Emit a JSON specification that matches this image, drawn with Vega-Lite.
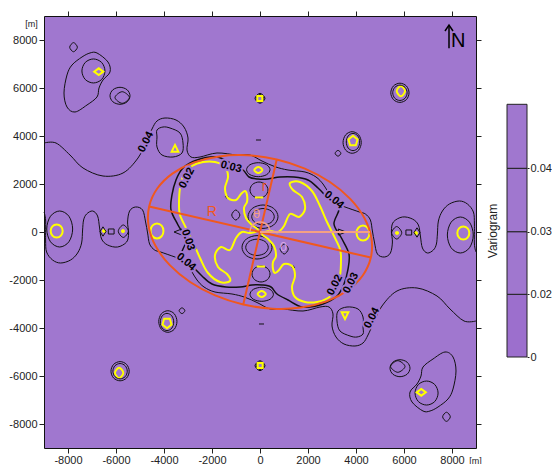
{
"$schema": "https://vega.github.io/schema/vega-lite/v6.json",
"padding": {"left": 8, "top": 10, "right": 0, "bottom": 0},
"config": {
  "axis": {"labelFont": "Liberation Sans", "labelFontSize": 11, "labelColor": "#222", "tickColor": "#222", "domain": false, "grid": false, "tickSize": 5, "titleFont": "Liberation Sans", "titleFontWeight": "normal", "titleColor": "#222"},
  "view": {"stroke": null},
  "text": {"font": "Liberation Sans"}
},
"datasets": {
  "loops": [
    {"id":"L1","lvl":"0.04","i":0,"x":-7610,"y":7700},{"id":"L1","lvl":"0.04","i":1,"x":-7770,"y":7890},{"id":"L1","lvl":"0.04","i":2,"x":-7930,"y":7700},{"id":"L1","lvl":"0.04","i":3,"x":-7770,"y":7510},
    {"id":"L1m","lvl":"0.04","i":0,"x":7610,"y":-7700},{"id":"L1m","lvl":"0.04","i":1,"x":7770,"y":-7890},{"id":"L1m","lvl":"0.04","i":2,"x":7930,"y":-7700},{"id":"L1m","lvl":"0.04","i":3,"x":7770,"y":-7510},
    {"id":"L3","lvl":"0.04","i":0,"x":-6460,"y":6710},{"id":"L3","lvl":"0.04","i":1,"x":-6599,"y":7065},{"id":"L3","lvl":"0.04","i":2,"x":-6940,"y":7210},{"id":"L3","lvl":"0.04","i":3,"x":-7281,"y":7065},{"id":"L3","lvl":"0.04","i":4,"x":-7420,"y":6710},{"id":"L3","lvl":"0.04","i":5,"x":-7281,"y":6355},{"id":"L3","lvl":"0.04","i":6,"x":-6940,"y":6210},{"id":"L3","lvl":"0.04","i":7,"x":-6599,"y":6355},
    {"id":"L3m","lvl":"0.04","i":0,"x":6460,"y":-6710},{"id":"L3m","lvl":"0.04","i":1,"x":6599,"y":-7065},{"id":"L3m","lvl":"0.04","i":2,"x":6940,"y":-7210},{"id":"L3m","lvl":"0.04","i":3,"x":7281,"y":-7065},{"id":"L3m","lvl":"0.04","i":4,"x":7420,"y":-6710},{"id":"L3m","lvl":"0.04","i":5,"x":7281,"y":-6355},{"id":"L3m","lvl":"0.04","i":6,"x":6940,"y":-6210},{"id":"L3m","lvl":"0.04","i":7,"x":6599,"y":-6355},
    {"id":"L4","lvl":"0.04","i":0,"x":-6792,"y":7459},{"id":"L4","lvl":"0.04","i":1,"x":-6333,"y":7083},{"id":"L4","lvl":"0.04","i":2,"x":-6250,"y":6667},{"id":"L4","lvl":"0.04","i":3,"x":-6542,"y":6333},{"id":"L4","lvl":"0.04","i":4,"x":-6708,"y":6000},{"id":"L4","lvl":"0.04","i":5,"x":-6792,"y":5625},{"id":"L4","lvl":"0.04","i":6,"x":-7208,"y":5292},{"id":"L4","lvl":"0.04","i":7,"x":-7708,"y":5000},{"id":"L4","lvl":"0.04","i":8,"x":-8042,"y":5208},{"id":"L4","lvl":"0.04","i":9,"x":-8167,"y":5792},{"id":"L4","lvl":"0.04","i":10,"x":-8042,"y":6542},{"id":"L4","lvl":"0.04","i":11,"x":-7833,"y":6958},{"id":"L4","lvl":"0.04","i":12,"x":-7417,"y":7292},{"id":"L4","lvl":"0.04","i":13,"x":-7083,"y":7459},
    {"id":"L4m","lvl":"0.04","i":0,"x":6792,"y":-7459},{"id":"L4m","lvl":"0.04","i":1,"x":6333,"y":-7083},{"id":"L4m","lvl":"0.04","i":2,"x":6250,"y":-6667},{"id":"L4m","lvl":"0.04","i":3,"x":6542,"y":-6333},{"id":"L4m","lvl":"0.04","i":4,"x":6708,"y":-6000},{"id":"L4m","lvl":"0.04","i":5,"x":6792,"y":-5625},{"id":"L4m","lvl":"0.04","i":6,"x":7208,"y":-5292},{"id":"L4m","lvl":"0.04","i":7,"x":7708,"y":-5000},{"id":"L4m","lvl":"0.04","i":8,"x":8042,"y":-5208},{"id":"L4m","lvl":"0.04","i":9,"x":8167,"y":-5792},{"id":"L4m","lvl":"0.04","i":10,"x":8042,"y":-6542},{"id":"L4m","lvl":"0.04","i":11,"x":7833,"y":-6958},{"id":"L4m","lvl":"0.04","i":12,"x":7417,"y":-7292},{"id":"L4m","lvl":"0.04","i":13,"x":7083,"y":-7459},
    {"id":"L5","lvl":"0.04","i":0,"x":-5416,"y":5675},{"id":"L5","lvl":"0.04","i":1,"x":-5537,"y":5926},{"id":"L5","lvl":"0.04","i":2,"x":-5833,"y":6029},{"id":"L5","lvl":"0.04","i":3,"x":-6129,"y":5926},{"id":"L5","lvl":"0.04","i":4,"x":-6250,"y":5675},{"id":"L5","lvl":"0.04","i":5,"x":-6129,"y":5424},{"id":"L5","lvl":"0.04","i":6,"x":-5833,"y":5321},{"id":"L5","lvl":"0.04","i":7,"x":-5537,"y":5424},
    {"id":"L5m","lvl":"0.04","i":0,"x":5416,"y":-5675},{"id":"L5m","lvl":"0.04","i":1,"x":5537,"y":-5926},{"id":"L5m","lvl":"0.04","i":2,"x":5833,"y":-6029},{"id":"L5m","lvl":"0.04","i":3,"x":6129,"y":-5926},{"id":"L5m","lvl":"0.04","i":4,"x":6250,"y":-5675},{"id":"L5m","lvl":"0.04","i":5,"x":6129,"y":-5424},{"id":"L5m","lvl":"0.04","i":6,"x":5833,"y":-5321},{"id":"L5m","lvl":"0.04","i":7,"x":5537,"y":-5424},
    {"id":"L6","lvl":"0.04","i":0,"x":-5442,"y":5604},{"id":"L6","lvl":"0.04","i":1,"x":-5742,"y":5846},{"id":"L6","lvl":"0.04","i":2,"x":-6042,"y":5604},{"id":"L6","lvl":"0.04","i":3,"x":-5742,"y":5362},
    {"id":"L6m","lvl":"0.04","i":0,"x":5442,"y":-5604},{"id":"L6m","lvl":"0.04","i":1,"x":5742,"y":-5846},{"id":"L6m","lvl":"0.04","i":2,"x":6042,"y":-5604},{"id":"L6m","lvl":"0.04","i":3,"x":5742,"y":-5362},
    {"id":"L7a","lvl":"0.04","i":0,"x":208,"y":5571},{"id":"L7a","lvl":"0.04","i":1,"x":0,"y":5779},{"id":"L7a","lvl":"0.04","i":2,"x":-208,"y":5571},{"id":"L7a","lvl":"0.04","i":3,"x":0,"y":5363},
    {"id":"L7am","lvl":"0.04","i":0,"x":-208,"y":-5571},{"id":"L7am","lvl":"0.04","i":1,"x":0,"y":-5779},{"id":"L7am","lvl":"0.04","i":2,"x":208,"y":-5571},{"id":"L7am","lvl":"0.04","i":3,"x":0,"y":-5363},
    {"id":"L7b","lvl":"0.04","i":0,"x":160,"y":5571},{"id":"L7b","lvl":"0.04","i":1,"x":0,"y":5731},{"id":"L7b","lvl":"0.04","i":2,"x":-160,"y":5571},{"id":"L7b","lvl":"0.04","i":3,"x":0,"y":5411},
    {"id":"L7bm","lvl":"0.04","i":0,"x":-160,"y":-5571},{"id":"L7bm","lvl":"0.04","i":1,"x":0,"y":-5731},{"id":"L7bm","lvl":"0.04","i":2,"x":160,"y":-5571},{"id":"L7bm","lvl":"0.04","i":3,"x":0,"y":-5411},
    {"id":"L8y","lvl":"0.02","i":0,"x":6045,"y":5870},{"id":"L8y","lvl":"0.02","i":1,"x":5870,"y":6080},{"id":"L8y","lvl":"0.02","i":2,"x":5695,"y":5870},{"id":"L8y","lvl":"0.02","i":3,"x":5870,"y":5660},
    {"id":"L8ym","lvl":"0.02","i":0,"x":-6045,"y":-5870},{"id":"L8ym","lvl":"0.02","i":1,"x":-5870,"y":-6080},{"id":"L8ym","lvl":"0.02","i":2,"x":-5695,"y":-5870},{"id":"L8ym","lvl":"0.02","i":3,"x":-5870,"y":-5660},
    {"id":"L8a","lvl":"0.04","i":0,"x":6210,"y":5800},{"id":"L8a","lvl":"0.04","i":1,"x":6100,"y":6084},{"id":"L8a","lvl":"0.04","i":2,"x":5830,"y":6200},{"id":"L8a","lvl":"0.04","i":3,"x":5560,"y":6084},{"id":"L8a","lvl":"0.04","i":4,"x":5450,"y":5800},{"id":"L8a","lvl":"0.04","i":5,"x":5560,"y":5516},{"id":"L8a","lvl":"0.04","i":6,"x":5830,"y":5400},{"id":"L8a","lvl":"0.04","i":7,"x":6100,"y":5516},
    {"id":"L8am","lvl":"0.04","i":0,"x":-6210,"y":-5800},{"id":"L8am","lvl":"0.04","i":1,"x":-6100,"y":-6084},{"id":"L8am","lvl":"0.04","i":2,"x":-5830,"y":-6200},{"id":"L8am","lvl":"0.04","i":3,"x":-5560,"y":-6084},{"id":"L8am","lvl":"0.04","i":4,"x":-5450,"y":-5800},{"id":"L8am","lvl":"0.04","i":5,"x":-5560,"y":-5516},{"id":"L8am","lvl":"0.04","i":6,"x":-5830,"y":-5400},{"id":"L8am","lvl":"0.04","i":7,"x":-6100,"y":-5516},
    {"id":"L8b","lvl":"0.04","i":0,"x":6130,"y":5800},{"id":"L8b","lvl":"0.04","i":1,"x":6043,"y":6027},{"id":"L8b","lvl":"0.04","i":2,"x":5830,"y":6120},{"id":"L8b","lvl":"0.04","i":3,"x":5617,"y":6027},{"id":"L8b","lvl":"0.04","i":4,"x":5530,"y":5800},{"id":"L8b","lvl":"0.04","i":5,"x":5617,"y":5573},{"id":"L8b","lvl":"0.04","i":6,"x":5830,"y":5480},{"id":"L8b","lvl":"0.04","i":7,"x":6043,"y":5573},
    {"id":"L8bm","lvl":"0.04","i":0,"x":-6130,"y":-5800},{"id":"L8bm","lvl":"0.04","i":1,"x":-6043,"y":-6027},{"id":"L8bm","lvl":"0.04","i":2,"x":-5830,"y":-6120},{"id":"L8bm","lvl":"0.04","i":3,"x":-5617,"y":-6027},{"id":"L8bm","lvl":"0.04","i":4,"x":-5530,"y":-5800},{"id":"L8bm","lvl":"0.04","i":5,"x":-5617,"y":-5573},{"id":"L8bm","lvl":"0.04","i":6,"x":-5830,"y":-5480},{"id":"L8bm","lvl":"0.04","i":7,"x":-6043,"y":-5573},
    {"id":"L9","lvl":"0.04","i":0,"x":3370,"y":3280},{"id":"L9","lvl":"0.04","i":1,"x":3250,"y":3400},{"id":"L9","lvl":"0.04","i":2,"x":3130,"y":3280},{"id":"L9","lvl":"0.04","i":3,"x":3250,"y":3160},
    {"id":"L9m","lvl":"0.04","i":0,"x":-3370,"y":-3280},{"id":"L9m","lvl":"0.04","i":1,"x":-3250,"y":-3400},{"id":"L9m","lvl":"0.04","i":2,"x":-3130,"y":-3280},{"id":"L9m","lvl":"0.04","i":3,"x":-3250,"y":-3160},
    {"id":"L10a","lvl":"0.04","i":0,"x":4155,"y":3750},{"id":"L10a","lvl":"0.04","i":1,"x":4074,"y":4006},{"id":"L10a","lvl":"0.04","i":2,"x":3875,"y":4110},{"id":"L10a","lvl":"0.04","i":3,"x":3676,"y":4006},{"id":"L10a","lvl":"0.04","i":4,"x":3595,"y":3750},{"id":"L10a","lvl":"0.04","i":5,"x":3676,"y":3494},{"id":"L10a","lvl":"0.04","i":6,"x":3875,"y":3390},{"id":"L10a","lvl":"0.04","i":7,"x":4074,"y":3494},
    {"id":"L10am","lvl":"0.04","i":0,"x":-4155,"y":-3750},{"id":"L10am","lvl":"0.04","i":1,"x":-4074,"y":-4006},{"id":"L10am","lvl":"0.04","i":2,"x":-3875,"y":-4110},{"id":"L10am","lvl":"0.04","i":3,"x":-3676,"y":-4006},{"id":"L10am","lvl":"0.04","i":4,"x":-3595,"y":-3750},{"id":"L10am","lvl":"0.04","i":5,"x":-3676,"y":-3494},{"id":"L10am","lvl":"0.04","i":6,"x":-3875,"y":-3390},{"id":"L10am","lvl":"0.04","i":7,"x":-4074,"y":-3494},
    {"id":"L10b","lvl":"0.04","i":0,"x":4220,"y":3730},{"id":"L10b","lvl":"0.04","i":1,"x":4110,"y":4050},{"id":"L10b","lvl":"0.04","i":2,"x":3840,"y":4180},{"id":"L10b","lvl":"0.04","i":3,"x":3570,"y":4050},{"id":"L10b","lvl":"0.04","i":4,"x":3460,"y":3730},{"id":"L10b","lvl":"0.04","i":5,"x":3570,"y":3410},{"id":"L10b","lvl":"0.04","i":6,"x":3840,"y":3280},{"id":"L10b","lvl":"0.04","i":7,"x":4110,"y":3410},
    {"id":"L10bm","lvl":"0.04","i":0,"x":-4220,"y":-3730},{"id":"L10bm","lvl":"0.04","i":1,"x":-4110,"y":-4050},{"id":"L10bm","lvl":"0.04","i":2,"x":-3840,"y":-4180},{"id":"L10bm","lvl":"0.04","i":3,"x":-3570,"y":-4050},{"id":"L10bm","lvl":"0.04","i":4,"x":-3460,"y":-3730},{"id":"L10bm","lvl":"0.04","i":5,"x":-3570,"y":-3410},{"id":"L10bm","lvl":"0.04","i":6,"x":-3840,"y":-3280},{"id":"L10bm","lvl":"0.04","i":7,"x":-4110,"y":-3410},
    {"id":"L11k","lvl":"0.04","i":0,"x":-4292,"y":4250},{"id":"L11k","lvl":"0.04","i":1,"x":-4042,"y":4375},{"id":"L11k","lvl":"0.04","i":2,"x":-3750,"y":4333},{"id":"L11k","lvl":"0.04","i":3,"x":-3333,"y":4125},{"id":"L11k","lvl":"0.04","i":4,"x":-3208,"y":3708},{"id":"L11k","lvl":"0.04","i":5,"x":-3250,"y":3292},{"id":"L11k","lvl":"0.04","i":6,"x":-3625,"y":3125},{"id":"L11k","lvl":"0.04","i":7,"x":-4083,"y":3208},{"id":"L11k","lvl":"0.04","i":8,"x":-4292,"y":3542},{"id":"L11k","lvl":"0.04","i":9,"x":-4292,"y":3958},
    {"id":"L11km","lvl":"0.04","i":0,"x":4292,"y":-4250},{"id":"L11km","lvl":"0.04","i":1,"x":4042,"y":-4375},{"id":"L11km","lvl":"0.04","i":2,"x":3750,"y":-4333},{"id":"L11km","lvl":"0.04","i":3,"x":3333,"y":-4125},{"id":"L11km","lvl":"0.04","i":4,"x":3208,"y":-3708},{"id":"L11km","lvl":"0.04","i":5,"x":3250,"y":-3292},{"id":"L11km","lvl":"0.04","i":6,"x":3625,"y":-3125},{"id":"L11km","lvl":"0.04","i":7,"x":4083,"y":-3208},{"id":"L11km","lvl":"0.04","i":8,"x":4292,"y":-3542},{"id":"L11km","lvl":"0.04","i":9,"x":4292,"y":-3958},
    {"id":"L12y","lvl":"0.02","i":0,"x":-4022,"y":42},{"id":"L12y","lvl":"0.02","i":1,"x":-4100,"y":262},{"id":"L12y","lvl":"0.02","i":2,"x":-4292,"y":352},{"id":"L12y","lvl":"0.02","i":3,"x":-4484,"y":262},{"id":"L12y","lvl":"0.02","i":4,"x":-4562,"y":42},{"id":"L12y","lvl":"0.02","i":5,"x":-4484,"y":-178},{"id":"L12y","lvl":"0.02","i":6,"x":-4292,"y":-268},{"id":"L12y","lvl":"0.02","i":7,"x":-4100,"y":-178},
    {"id":"L12ym","lvl":"0.02","i":0,"x":4022,"y":-42},{"id":"L12ym","lvl":"0.02","i":1,"x":4100,"y":-262},{"id":"L12ym","lvl":"0.02","i":2,"x":4292,"y":-352},{"id":"L12ym","lvl":"0.02","i":3,"x":4484,"y":-262},{"id":"L12ym","lvl":"0.02","i":4,"x":4562,"y":-42},{"id":"L12ym","lvl":"0.02","i":5,"x":4484,"y":178},{"id":"L12ym","lvl":"0.02","i":6,"x":4292,"y":268},{"id":"L12ym","lvl":"0.02","i":7,"x":4100,"y":178},
    {"id":"L13y","lvl":"0.02","i":0,"x":-8222,"y":42},{"id":"L13y","lvl":"0.02","i":1,"x":-8294,"y":234},{"id":"L13y","lvl":"0.02","i":2,"x":-8472,"y":312},{"id":"L13y","lvl":"0.02","i":3,"x":-8650,"y":234},{"id":"L13y","lvl":"0.02","i":4,"x":-8722,"y":42},{"id":"L13y","lvl":"0.02","i":5,"x":-8650,"y":-150},{"id":"L13y","lvl":"0.02","i":6,"x":-8472,"y":-228},{"id":"L13y","lvl":"0.02","i":7,"x":-8294,"y":-150},
    {"id":"L13ym","lvl":"0.02","i":0,"x":8222,"y":-42},{"id":"L13ym","lvl":"0.02","i":1,"x":8294,"y":-234},{"id":"L13ym","lvl":"0.02","i":2,"x":8472,"y":-312},{"id":"L13ym","lvl":"0.02","i":3,"x":8650,"y":-234},{"id":"L13ym","lvl":"0.02","i":4,"x":8722,"y":-42},{"id":"L13ym","lvl":"0.02","i":5,"x":8650,"y":150},{"id":"L13ym","lvl":"0.02","i":6,"x":8472,"y":228},{"id":"L13ym","lvl":"0.02","i":7,"x":8294,"y":150},
    {"id":"L14k","lvl":"0.04","i":0,"x":-7806,"y":125},{"id":"L14k","lvl":"0.04","i":1,"x":-7963,"y":658},{"id":"L14k","lvl":"0.04","i":2,"x":-8346,"y":875},{"id":"L14k","lvl":"0.04","i":3,"x":-8729,"y":658},{"id":"L14k","lvl":"0.04","i":4,"x":-8886,"y":125},{"id":"L14k","lvl":"0.04","i":5,"x":-8729,"y":-408},{"id":"L14k","lvl":"0.04","i":6,"x":-8346,"y":-625},{"id":"L14k","lvl":"0.04","i":7,"x":-7963,"y":-408},
    {"id":"L14km","lvl":"0.04","i":0,"x":7806,"y":-125},{"id":"L14km","lvl":"0.04","i":1,"x":7963,"y":-658},{"id":"L14km","lvl":"0.04","i":2,"x":8346,"y":-875},{"id":"L14km","lvl":"0.04","i":3,"x":8729,"y":-658},{"id":"L14km","lvl":"0.04","i":4,"x":8886,"y":-125},{"id":"L14km","lvl":"0.04","i":5,"x":8729,"y":408},{"id":"L14km","lvl":"0.04","i":6,"x":8346,"y":625},{"id":"L14km","lvl":"0.04","i":7,"x":7963,"y":408},
    {"id":"L15y","lvl":"0.02","i":0,"x":-6455,"y":42},{"id":"L15y","lvl":"0.02","i":1,"x":-6500,"y":87},{"id":"L15y","lvl":"0.02","i":2,"x":-6545,"y":42},{"id":"L15y","lvl":"0.02","i":3,"x":-6500,"y":-3},
    {"id":"L15ym","lvl":"0.02","i":0,"x":6455,"y":-42},{"id":"L15ym","lvl":"0.02","i":1,"x":6500,"y":-87},{"id":"L15ym","lvl":"0.02","i":2,"x":6545,"y":-42},{"id":"L15ym","lvl":"0.02","i":3,"x":6500,"y":3},
    {"id":"L17k","lvl":"0.04","i":0,"x":-5486,"y":33},{"id":"L17k","lvl":"0.04","i":1,"x":-5696,"y":293},{"id":"L17k","lvl":"0.04","i":2,"x":-5906,"y":33},{"id":"L17k","lvl":"0.04","i":3,"x":-5696,"y":-227},
    {"id":"L17km","lvl":"0.04","i":0,"x":5486,"y":-33},{"id":"L17km","lvl":"0.04","i":1,"x":5696,"y":-293},{"id":"L17km","lvl":"0.04","i":2,"x":5906,"y":-33},{"id":"L17km","lvl":"0.04","i":3,"x":5696,"y":227},
    {"id":"L17y","lvl":"0.02","i":0,"x":-5665,"y":40},{"id":"L17y","lvl":"0.02","i":1,"x":-5710,"y":85},{"id":"L17y","lvl":"0.02","i":2,"x":-5755,"y":40},{"id":"L17y","lvl":"0.02","i":3,"x":-5710,"y":-5},
    {"id":"L17ym","lvl":"0.02","i":0,"x":5665,"y":-40},{"id":"L17ym","lvl":"0.02","i":1,"x":5710,"y":-85},{"id":"L17ym","lvl":"0.02","i":2,"x":5755,"y":-40},{"id":"L17ym","lvl":"0.02","i":3,"x":5710,"y":5},
    {"id":"L20y","lvl":"0.02","i":0,"x":99,"y":2583},{"id":"L20y","lvl":"0.02","i":1,"x":-71,"y":2708},{"id":"L20y","lvl":"0.02","i":2,"x":-241,"y":2583},{"id":"L20y","lvl":"0.02","i":3,"x":-71,"y":2458},
    {"id":"L20ym","lvl":"0.02","i":0,"x":-99,"y":-2583},{"id":"L20ym","lvl":"0.02","i":1,"x":71,"y":-2708},{"id":"L20ym","lvl":"0.02","i":2,"x":241,"y":-2583},{"id":"L20ym","lvl":"0.02","i":3,"x":71,"y":-2458},
    {"id":"L21k","lvl":"0.04","i":0,"x":417,"y":2596},{"id":"L21k","lvl":"0.04","i":1,"x":275,"y":2803},{"id":"L21k","lvl":"0.04","i":2,"x":-71,"y":2888},{"id":"L21k","lvl":"0.04","i":3,"x":-417,"y":2803},{"id":"L21k","lvl":"0.04","i":4,"x":-559,"y":2596},{"id":"L21k","lvl":"0.04","i":5,"x":-417,"y":2389},{"id":"L21k","lvl":"0.04","i":6,"x":-71,"y":2304},{"id":"L21k","lvl":"0.04","i":7,"x":275,"y":2389},
    {"id":"L21km","lvl":"0.04","i":0,"x":-417,"y":-2596},{"id":"L21km","lvl":"0.04","i":1,"x":-275,"y":-2803},{"id":"L21km","lvl":"0.04","i":2,"x":71,"y":-2888},{"id":"L21km","lvl":"0.04","i":3,"x":417,"y":-2803},{"id":"L21km","lvl":"0.04","i":4,"x":559,"y":-2596},{"id":"L21km","lvl":"0.04","i":5,"x":417,"y":-2389},{"id":"L21km","lvl":"0.04","i":6,"x":71,"y":-2304},{"id":"L21km","lvl":"0.04","i":7,"x":-275,"y":-2389},
    {"id":"C1k","lvl":"0.04","i":0,"x":333,"y":1750},{"id":"C1k","lvl":"0.04","i":1,"x":224,"y":1986},{"id":"C1k","lvl":"0.04","i":2,"x":-42,"y":2083},{"id":"C1k","lvl":"0.04","i":3,"x":-308,"y":1986},{"id":"C1k","lvl":"0.04","i":4,"x":-417,"y":1750},{"id":"C1k","lvl":"0.04","i":5,"x":-308,"y":1514},{"id":"C1k","lvl":"0.04","i":6,"x":-42,"y":1417},{"id":"C1k","lvl":"0.04","i":7,"x":224,"y":1514},
    {"id":"C1km","lvl":"0.04","i":0,"x":-333,"y":-1750},{"id":"C1km","lvl":"0.04","i":1,"x":-224,"y":-1986},{"id":"C1km","lvl":"0.04","i":2,"x":42,"y":-2083},{"id":"C1km","lvl":"0.04","i":3,"x":308,"y":-1986},{"id":"C1km","lvl":"0.04","i":4,"x":417,"y":-1750},{"id":"C1km","lvl":"0.04","i":5,"x":308,"y":-1514},{"id":"C1km","lvl":"0.04","i":6,"x":42,"y":-1417},{"id":"C1km","lvl":"0.04","i":7,"x":-224,"y":-1514},
    {"id":"C3k","lvl":"0.04","i":0,"x":750,"y":638},{"id":"C3k","lvl":"0.04","i":1,"x":569,"y":984},{"id":"C3k","lvl":"0.04","i":2,"x":125,"y":1126},{"id":"C3k","lvl":"0.04","i":3,"x":-319,"y":984},{"id":"C3k","lvl":"0.04","i":4,"x":-500,"y":638},{"id":"C3k","lvl":"0.04","i":5,"x":-319,"y":292},{"id":"C3k","lvl":"0.04","i":6,"x":125,"y":150},{"id":"C3k","lvl":"0.04","i":7,"x":569,"y":292},
    {"id":"C3km","lvl":"0.04","i":0,"x":-750,"y":-638},{"id":"C3km","lvl":"0.04","i":1,"x":-569,"y":-984},{"id":"C3km","lvl":"0.04","i":2,"x":-125,"y":-1126},{"id":"C3km","lvl":"0.04","i":3,"x":319,"y":-984},{"id":"C3km","lvl":"0.04","i":4,"x":500,"y":-638},{"id":"C3km","lvl":"0.04","i":5,"x":319,"y":-292},{"id":"C3km","lvl":"0.04","i":6,"x":-125,"y":-150},{"id":"C3km","lvl":"0.04","i":7,"x":-569,"y":-292},
    {"id":"C3b","lvl":"0.04","i":0,"x":595,"y":638},{"id":"C3b","lvl":"0.04","i":1,"x":459,"y":879},{"id":"C3b","lvl":"0.04","i":2,"x":125,"y":978},{"id":"C3b","lvl":"0.04","i":3,"x":-209,"y":879},{"id":"C3b","lvl":"0.04","i":4,"x":-345,"y":638},{"id":"C3b","lvl":"0.04","i":5,"x":-209,"y":397},{"id":"C3b","lvl":"0.04","i":6,"x":125,"y":298},{"id":"C3b","lvl":"0.04","i":7,"x":459,"y":397},
    {"id":"C3bm","lvl":"0.04","i":0,"x":-595,"y":-638},{"id":"C3bm","lvl":"0.04","i":1,"x":-459,"y":-879},{"id":"C3bm","lvl":"0.04","i":2,"x":-125,"y":-978},{"id":"C3bm","lvl":"0.04","i":3,"x":209,"y":-879},{"id":"C3bm","lvl":"0.04","i":4,"x":345,"y":-638},{"id":"C3bm","lvl":"0.04","i":5,"x":209,"y":-397},{"id":"C3bm","lvl":"0.04","i":6,"x":-125,"y":-298},{"id":"C3bm","lvl":"0.04","i":7,"x":-459,"y":-397},
    {"id":"C4k","lvl":"0.04","i":0,"x":-838,"y":708},{"id":"C4k","lvl":"0.04","i":1,"x":-1008,"y":918},{"id":"C4k","lvl":"0.04","i":2,"x":-1178,"y":708},{"id":"C4k","lvl":"0.04","i":3,"x":-1008,"y":498},
    {"id":"C4km","lvl":"0.04","i":0,"x":838,"y":-708},{"id":"C4km","lvl":"0.04","i":1,"x":1008,"y":-918},{"id":"C4km","lvl":"0.04","i":2,"x":1178,"y":-708},{"id":"C4km","lvl":"0.04","i":3,"x":1008,"y":-498},
    {"id":"Dt","lvl":"0.04","i":0,"x":-1338,"y":1471},{"id":"Dt","lvl":"0.04","i":1,"x":-1388,"y":1521},{"id":"Dt","lvl":"0.04","i":2,"x":-1438,"y":1471},{"id":"Dt","lvl":"0.04","i":3,"x":-1388,"y":1421},
    {"id":"Dtm","lvl":"0.04","i":0,"x":1338,"y":-1471},{"id":"Dtm","lvl":"0.04","i":1,"x":1388,"y":-1521},{"id":"Dtm","lvl":"0.04","i":2,"x":1438,"y":-1471},{"id":"Dtm","lvl":"0.04","i":3,"x":1388,"y":-1421},
    {"id":"Y1","lvl":"0.02","i":0,"x":-3375,"y":1125},{"id":"Y1","lvl":"0.02","i":1,"x":-3333,"y":1833},{"id":"Y1","lvl":"0.02","i":2,"x":-3167,"y":2417},{"id":"Y1","lvl":"0.02","i":3,"x":-2833,"y":2750},{"id":"Y1","lvl":"0.02","i":4,"x":-2375,"y":2917},{"id":"Y1","lvl":"0.02","i":5,"x":-1875,"y":2917},{"id":"Y1","lvl":"0.02","i":6,"x":-1458,"y":2708},{"id":"Y1","lvl":"0.02","i":7,"x":-1333,"y":2292},{"id":"Y1","lvl":"0.02","i":8,"x":-1458,"y":1833},{"id":"Y1","lvl":"0.02","i":9,"x":-1333,"y":1417},{"id":"Y1","lvl":"0.02","i":10,"x":-1000,"y":1333},{"id":"Y1","lvl":"0.02","i":11,"x":-792,"y":1583},{"id":"Y1","lvl":"0.02","i":12,"x":-625,"y":1708},{"id":"Y1","lvl":"0.02","i":13,"x":-542,"y":1542},{"id":"Y1","lvl":"0.02","i":14,"x":-542,"y":1250},{"id":"Y1","lvl":"0.02","i":15,"x":-667,"y":1000},{"id":"Y1","lvl":"0.02","i":16,"x":-583,"y":583},{"id":"Y1","lvl":"0.02","i":17,"x":-333,"y":292},{"id":"Y1","lvl":"0.02","i":18,"x":-83,"y":83},{"id":"Y1","lvl":"0.02","i":19,"x":-417,"y":-42},{"id":"Y1","lvl":"0.02","i":20,"x":-750,"y":0},{"id":"Y1","lvl":"0.02","i":21,"x":-1000,"y":-250},{"id":"Y1","lvl":"0.02","i":22,"x":-1250,"y":-750},{"id":"Y1","lvl":"0.02","i":23,"x":-1625,"y":-625},{"id":"Y1","lvl":"0.02","i":24,"x":-1875,"y":-958},{"id":"Y1","lvl":"0.02","i":25,"x":-1750,"y":-1458},{"id":"Y1","lvl":"0.02","i":26,"x":-1375,"y":-1750},{"id":"Y1","lvl":"0.02","i":27,"x":-1250,"y":-2042},{"id":"Y1","lvl":"0.02","i":28,"x":-1667,"y":-2083},{"id":"Y1","lvl":"0.02","i":29,"x":-2167,"y":-1708},{"id":"Y1","lvl":"0.02","i":30,"x":-2500,"y":-1083},{"id":"Y1","lvl":"0.02","i":31,"x":-2792,"y":-417},{"id":"Y1","lvl":"0.02","i":32,"x":-3083,"y":167},{"id":"Y1","lvl":"0.02","i":33,"x":-3333,"y":708},
    {"id":"Y1m","lvl":"0.02","i":0,"x":3375,"y":-1125},{"id":"Y1m","lvl":"0.02","i":1,"x":3333,"y":-1833},{"id":"Y1m","lvl":"0.02","i":2,"x":3167,"y":-2417},{"id":"Y1m","lvl":"0.02","i":3,"x":2833,"y":-2750},{"id":"Y1m","lvl":"0.02","i":4,"x":2375,"y":-2917},{"id":"Y1m","lvl":"0.02","i":5,"x":1875,"y":-2917},{"id":"Y1m","lvl":"0.02","i":6,"x":1458,"y":-2708},{"id":"Y1m","lvl":"0.02","i":7,"x":1333,"y":-2292},{"id":"Y1m","lvl":"0.02","i":8,"x":1458,"y":-1833},{"id":"Y1m","lvl":"0.02","i":9,"x":1333,"y":-1417},{"id":"Y1m","lvl":"0.02","i":10,"x":1000,"y":-1333},{"id":"Y1m","lvl":"0.02","i":11,"x":792,"y":-1583},{"id":"Y1m","lvl":"0.02","i":12,"x":625,"y":-1708},{"id":"Y1m","lvl":"0.02","i":13,"x":542,"y":-1542},{"id":"Y1m","lvl":"0.02","i":14,"x":542,"y":-1250},{"id":"Y1m","lvl":"0.02","i":15,"x":667,"y":-1000},{"id":"Y1m","lvl":"0.02","i":16,"x":583,"y":-583},{"id":"Y1m","lvl":"0.02","i":17,"x":333,"y":-292},{"id":"Y1m","lvl":"0.02","i":18,"x":83,"y":-83},{"id":"Y1m","lvl":"0.02","i":19,"x":417,"y":42},{"id":"Y1m","lvl":"0.02","i":20,"x":750,"y":0},{"id":"Y1m","lvl":"0.02","i":21,"x":1000,"y":250},{"id":"Y1m","lvl":"0.02","i":22,"x":1250,"y":750},{"id":"Y1m","lvl":"0.02","i":23,"x":1625,"y":625},{"id":"Y1m","lvl":"0.02","i":24,"x":1875,"y":958},{"id":"Y1m","lvl":"0.02","i":25,"x":1750,"y":1458},{"id":"Y1m","lvl":"0.02","i":26,"x":1375,"y":1750},{"id":"Y1m","lvl":"0.02","i":27,"x":1250,"y":2042},{"id":"Y1m","lvl":"0.02","i":28,"x":1667,"y":2083},{"id":"Y1m","lvl":"0.02","i":29,"x":2167,"y":1708},{"id":"Y1m","lvl":"0.02","i":30,"x":2500,"y":1083},{"id":"Y1m","lvl":"0.02","i":31,"x":2792,"y":417},{"id":"Y1m","lvl":"0.02","i":32,"x":3083,"y":-167},{"id":"Y1m","lvl":"0.02","i":33,"x":3333,"y":-708},
    {"id":"D","lvl":"0.03","i":0,"x":-3292,"y":-1000},{"id":"D","lvl":"0.03","i":1,"x":-3083,"y":-333},{"id":"D","lvl":"0.03","i":2,"x":-3417,"y":292},{"id":"D","lvl":"0.03","i":3,"x":-3708,"y":917},{"id":"D","lvl":"0.03","i":4,"x":-3667,"y":1542},{"id":"D","lvl":"0.03","i":5,"x":-3500,"y":2167},{"id":"D","lvl":"0.03","i":6,"x":-3208,"y":2667},{"id":"D","lvl":"0.03","i":7,"x":-2625,"y":3000},{"id":"D","lvl":"0.03","i":8,"x":-1792,"y":3125},{"id":"D","lvl":"0.03","i":9,"x":-1167,"y":2833},{"id":"D","lvl":"0.03","i":10,"x":-708,"y":2583},{"id":"D","lvl":"0.03","i":11,"x":-458,"y":2292},{"id":"D","lvl":"0.03","i":12,"x":-83,"y":2208},{"id":"D","lvl":"0.03","i":13,"x":333,"y":2208},{"id":"D","lvl":"0.03","i":14,"x":833,"y":2292},{"id":"D","lvl":"0.03","i":15,"x":1417,"y":2292},{"id":"D","lvl":"0.03","i":16,"x":2000,"y":2167},{"id":"D","lvl":"0.03","i":17,"x":2417,"y":1833},{"id":"D","lvl":"0.03","i":18,"x":2833,"y":1417},
    {"id":"D","lvl":"0.03","i":19,"x":3292,"y":1000},{"id":"D","lvl":"0.03","i":20,"x":3083,"y":333},{"id":"D","lvl":"0.03","i":21,"x":3417,"y":-292},{"id":"D","lvl":"0.03","i":22,"x":3708,"y":-917},{"id":"D","lvl":"0.03","i":23,"x":3667,"y":-1542},{"id":"D","lvl":"0.03","i":24,"x":3500,"y":-2167},{"id":"D","lvl":"0.03","i":25,"x":3208,"y":-2667},{"id":"D","lvl":"0.03","i":26,"x":2625,"y":-3000},{"id":"D","lvl":"0.03","i":27,"x":1792,"y":-3125},{"id":"D","lvl":"0.03","i":28,"x":1167,"y":-2833},{"id":"D","lvl":"0.03","i":29,"x":708,"y":-2583},{"id":"D","lvl":"0.03","i":30,"x":458,"y":-2292},{"id":"D","lvl":"0.03","i":31,"x":83,"y":-2208},{"id":"D","lvl":"0.03","i":32,"x":-333,"y":-2208},{"id":"D","lvl":"0.03","i":33,"x":-833,"y":-2292},{"id":"D","lvl":"0.03","i":34,"x":-1417,"y":-2292},{"id":"D","lvl":"0.03","i":35,"x":-2000,"y":-2167},{"id":"D","lvl":"0.03","i":36,"x":-2417,"y":-1833},{"id":"D","lvl":"0.03","i":37,"x":-2833,"y":-1417}
  ],
  "polys": [
    {"id":"P2","lvl":"0.02","i":0,"x":-6530,"y":6680},{"id":"P2","lvl":"0.02","i":1,"x":-6720,"y":6820},{"id":"P2","lvl":"0.02","i":2,"x":-6910,"y":6680},{"id":"P2","lvl":"0.02","i":3,"x":-6720,"y":6540},
    {"id":"P2m","lvl":"0.02","i":0,"x":6530,"y":-6680},{"id":"P2m","lvl":"0.02","i":1,"x":6720,"y":-6820},{"id":"P2m","lvl":"0.02","i":2,"x":6910,"y":-6680},{"id":"P2m","lvl":"0.02","i":3,"x":6720,"y":-6540},
    {"id":"P7","lvl":"0.02","i":0,"x":-112,"y":5459},{"id":"P7","lvl":"0.02","i":1,"x":96,"y":5459},{"id":"P7","lvl":"0.02","i":2,"x":96,"y":5667},{"id":"P7","lvl":"0.02","i":3,"x":-112,"y":5667},
    {"id":"P7m","lvl":"0.02","i":0,"x":112,"y":-5459},{"id":"P7m","lvl":"0.02","i":1,"x":-96,"y":-5459},{"id":"P7m","lvl":"0.02","i":2,"x":-96,"y":-5667},{"id":"P7m","lvl":"0.02","i":3,"x":112,"y":-5667},
    {"id":"P10","lvl":"0.02","i":0,"x":3875,"y":4010},{"id":"P10","lvl":"0.02","i":1,"x":3685,"y":3858},{"id":"P10","lvl":"0.02","i":2,"x":3757,"y":3612},{"id":"P10","lvl":"0.02","i":3,"x":3993,"y":3612},{"id":"P10","lvl":"0.02","i":4,"x":4065,"y":3858},
    {"id":"P10m","lvl":"0.02","i":0,"x":-3875,"y":-4010},{"id":"P10m","lvl":"0.02","i":1,"x":-3685,"y":-3858},{"id":"P10m","lvl":"0.02","i":2,"x":-3757,"y":-3612},{"id":"P10m","lvl":"0.02","i":3,"x":-3993,"y":-3612},{"id":"P10m","lvl":"0.02","i":4,"x":-4065,"y":-3858},
    {"id":"P11","lvl":"0.02","i":0,"x":-3542,"y":3628},{"id":"P11","lvl":"0.02","i":1,"x":-3404,"y":3348},{"id":"P11","lvl":"0.02","i":2,"x":-3680,"y":3348},
    {"id":"P11m","lvl":"0.02","i":0,"x":3542,"y":-3628},{"id":"P11m","lvl":"0.02","i":1,"x":3404,"y":-3348},{"id":"P11m","lvl":"0.02","i":2,"x":3680,"y":-3348},
    {"id":"P15","lvl":"0.04","i":0,"x":-6417,"y":21},{"id":"P15","lvl":"0.04","i":1,"x":-6542,"y":216},{"id":"P15","lvl":"0.04","i":2,"x":-6667,"y":21},{"id":"P15","lvl":"0.04","i":3,"x":-6542,"y":-174},
    {"id":"P15m","lvl":"0.04","i":0,"x":6417,"y":-21},{"id":"P15m","lvl":"0.04","i":1,"x":6542,"y":-216},{"id":"P15m","lvl":"0.04","i":2,"x":6667,"y":-21},{"id":"P15m","lvl":"0.04","i":3,"x":6542,"y":174},
    {"id":"P16","lvl":"0.04","i":0,"x":-6320,"y":-84},{"id":"P16","lvl":"0.04","i":1,"x":-6080,"y":-84},{"id":"P16","lvl":"0.04","i":2,"x":-6080,"y":126},{"id":"P16","lvl":"0.04","i":3,"x":-6320,"y":126},
    {"id":"P16m","lvl":"0.04","i":0,"x":6320,"y":84},{"id":"P16m","lvl":"0.04","i":1,"x":6080,"y":84},{"id":"P16m","lvl":"0.04","i":2,"x":6080,"y":-126},{"id":"P16m","lvl":"0.04","i":3,"x":6320,"y":-126},
    {"id":"P18","lvl":"0.04","i":0,"x":-3583,"y":0},{"id":"P18","lvl":"0.04","i":1,"x":-3263,"y":125},{"id":"P18","lvl":"0.04","i":2,"x":-3263,"y":-125},
    {"id":"P18m","lvl":"0.04","i":0,"x":3583,"y":0},{"id":"P18m","lvl":"0.04","i":1,"x":3263,"y":-125},{"id":"P18m","lvl":"0.04","i":2,"x":3263,"y":125}
  ],
  "paths": [
    {"id":"C","lvl":"0.04","i":0,"x":-9000,"y":3708},{"id":"C","lvl":"0.04","i":1,"x":-8500,"y":3708},{"id":"C","lvl":"0.04","i":2,"x":-7917,"y":3208},{"id":"C","lvl":"0.04","i":3,"x":-7375,"y":2667},{"id":"C","lvl":"0.04","i":4,"x":-6542,"y":2333},{"id":"C","lvl":"0.04","i":5,"x":-5708,"y":2458},{"id":"C","lvl":"0.04","i":6,"x":-5083,"y":3083},{"id":"C","lvl":"0.04","i":7,"x":-4750,"y":3750},{"id":"C","lvl":"0.04","i":8,"x":-4500,"y":4292},{"id":"C","lvl":"0.04","i":9,"x":-4292,"y":4625},{"id":"C","lvl":"0.04","i":10,"x":-3958,"y":4750},{"id":"C","lvl":"0.04","i":11,"x":-3500,"y":4667},{"id":"C","lvl":"0.04","i":12,"x":-3167,"y":4375},{"id":"C","lvl":"0.04","i":13,"x":-3000,"y":3917},{"id":"C","lvl":"0.04","i":14,"x":-3042,"y":3417},{"id":"C","lvl":"0.04","i":15,"x":-2875,"y":3125},{"id":"C","lvl":"0.04","i":16,"x":-2500,"y":3125},{"id":"C","lvl":"0.04","i":17,"x":-1792,"y":3292},{"id":"C","lvl":"0.04","i":18,"x":-958,"y":3208},{"id":"C","lvl":"0.04","i":19,"x":-417,"y":3208},{"id":"C","lvl":"0.04","i":20,"x":83,"y":2958},{"id":"C","lvl":"0.04","i":21,"x":625,"y":2721},{"id":"C","lvl":"0.04","i":22,"x":1167,"y":2583},{"id":"C","lvl":"0.04","i":23,"x":1875,"y":2500},{"id":"C","lvl":"0.04","i":24,"x":2333,"y":2292},{"id":"C","lvl":"0.04","i":25,"x":2625,"y":2000},{"id":"C","lvl":"0.04","i":26,"x":2833,"y":1667},{"id":"C","lvl":"0.04","i":27,"x":3042,"y":1333},{"id":"C","lvl":"0.04","i":28,"x":3333,"y":1125},{"id":"C","lvl":"0.04","i":29,"x":3542,"y":1042},{"id":"C","lvl":"0.04","i":30,"x":4142,"y":833},{"id":"C","lvl":"0.04","i":31,"x":4392,"y":750},{"id":"C","lvl":"0.04","i":32,"x":4600,"y":500},{"id":"C","lvl":"0.04","i":33,"x":4683,"y":42},{"id":"C","lvl":"0.04","i":34,"x":4767,"y":-417},{"id":"C","lvl":"0.04","i":35,"x":4892,"y":-917},{"id":"C","lvl":"0.04","i":36,"x":5183,"y":-1042},{"id":"C","lvl":"0.04","i":37,"x":5433,"y":-875},{"id":"C","lvl":"0.04","i":38,"x":5517,"y":-417},{"id":"C","lvl":"0.04","i":39,"x":5475,"y":42},{"id":"C","lvl":"0.04","i":40,"x":5558,"y":417},{"id":"C","lvl":"0.04","i":41,"x":5933,"y":625},{"id":"C","lvl":"0.04","i":42,"x":6350,"y":542},{"id":"C","lvl":"0.04","i":43,"x":6600,"y":292},{"id":"C","lvl":"0.04","i":44,"x":6683,"y":-167},{"id":"C","lvl":"0.04","i":45,"x":6767,"y":-667},{"id":"C","lvl":"0.04","i":46,"x":6975,"y":-875},{"id":"C","lvl":"0.04","i":47,"x":7225,"y":-750},{"id":"C","lvl":"0.04","i":48,"x":7350,"y":-500},{"id":"C","lvl":"0.04","i":49,"x":7392,"y":-83},{"id":"C","lvl":"0.04","i":50,"x":7433,"y":458},{"id":"C","lvl":"0.04","i":51,"x":7600,"y":875},{"id":"C","lvl":"0.04","i":52,"x":7892,"y":1167},{"id":"C","lvl":"0.04","i":53,"x":8308,"y":1292},{"id":"C","lvl":"0.04","i":54,"x":8642,"y":1167},{"id":"C","lvl":"0.04","i":55,"x":8892,"y":833},{"id":"C","lvl":"0.04","i":56,"x":8933,"y":333},{"id":"C","lvl":"0.04","i":57,"x":8933,"y":-500},{"id":"C","lvl":"0.04","i":58,"x":9000,"y":-833},
    {"id":"Cm","lvl":"0.04","i":0,"x":9000,"y":-3708},{"id":"Cm","lvl":"0.04","i":1,"x":8500,"y":-3708},{"id":"Cm","lvl":"0.04","i":2,"x":7917,"y":-3208},{"id":"Cm","lvl":"0.04","i":3,"x":7375,"y":-2667},{"id":"Cm","lvl":"0.04","i":4,"x":6542,"y":-2333},{"id":"Cm","lvl":"0.04","i":5,"x":5708,"y":-2458},{"id":"Cm","lvl":"0.04","i":6,"x":5083,"y":-3083},{"id":"Cm","lvl":"0.04","i":7,"x":4750,"y":-3750},{"id":"Cm","lvl":"0.04","i":8,"x":4500,"y":-4292},{"id":"Cm","lvl":"0.04","i":9,"x":4292,"y":-4625},{"id":"Cm","lvl":"0.04","i":10,"x":3958,"y":-4750},{"id":"Cm","lvl":"0.04","i":11,"x":3500,"y":-4667},{"id":"Cm","lvl":"0.04","i":12,"x":3167,"y":-4375},{"id":"Cm","lvl":"0.04","i":13,"x":3000,"y":-3917},{"id":"Cm","lvl":"0.04","i":14,"x":3042,"y":-3417},{"id":"Cm","lvl":"0.04","i":15,"x":2875,"y":-3125},{"id":"Cm","lvl":"0.04","i":16,"x":2500,"y":-3125},{"id":"Cm","lvl":"0.04","i":17,"x":1792,"y":-3292},{"id":"Cm","lvl":"0.04","i":18,"x":958,"y":-3208},{"id":"Cm","lvl":"0.04","i":19,"x":417,"y":-3208},{"id":"Cm","lvl":"0.04","i":20,"x":-83,"y":-2958},{"id":"Cm","lvl":"0.04","i":21,"x":-625,"y":-2721},{"id":"Cm","lvl":"0.04","i":22,"x":-1167,"y":-2583},{"id":"Cm","lvl":"0.04","i":23,"x":-1875,"y":-2500},{"id":"Cm","lvl":"0.04","i":24,"x":-2333,"y":-2292},{"id":"Cm","lvl":"0.04","i":25,"x":-2625,"y":-2000},{"id":"Cm","lvl":"0.04","i":26,"x":-2833,"y":-1667},{"id":"Cm","lvl":"0.04","i":27,"x":-3042,"y":-1333},{"id":"Cm","lvl":"0.04","i":28,"x":-3333,"y":-1125},{"id":"Cm","lvl":"0.04","i":29,"x":-3542,"y":-1042},{"id":"Cm","lvl":"0.04","i":30,"x":-4142,"y":-833},{"id":"Cm","lvl":"0.04","i":31,"x":-4392,"y":-750},{"id":"Cm","lvl":"0.04","i":32,"x":-4600,"y":-500},{"id":"Cm","lvl":"0.04","i":33,"x":-4683,"y":-42},{"id":"Cm","lvl":"0.04","i":34,"x":-4767,"y":417},{"id":"Cm","lvl":"0.04","i":35,"x":-4892,"y":917},{"id":"Cm","lvl":"0.04","i":36,"x":-5183,"y":1042},{"id":"Cm","lvl":"0.04","i":37,"x":-5433,"y":875},{"id":"Cm","lvl":"0.04","i":38,"x":-5517,"y":417},{"id":"Cm","lvl":"0.04","i":39,"x":-5475,"y":-42},{"id":"Cm","lvl":"0.04","i":40,"x":-5558,"y":-417},{"id":"Cm","lvl":"0.04","i":41,"x":-5933,"y":-625},{"id":"Cm","lvl":"0.04","i":42,"x":-6350,"y":-542},{"id":"Cm","lvl":"0.04","i":43,"x":-6600,"y":-292},{"id":"Cm","lvl":"0.04","i":44,"x":-6683,"y":167},{"id":"Cm","lvl":"0.04","i":45,"x":-6767,"y":667},{"id":"Cm","lvl":"0.04","i":46,"x":-6975,"y":875},{"id":"Cm","lvl":"0.04","i":47,"x":-7225,"y":750},{"id":"Cm","lvl":"0.04","i":48,"x":-7350,"y":500},{"id":"Cm","lvl":"0.04","i":49,"x":-7392,"y":83},{"id":"Cm","lvl":"0.04","i":50,"x":-7433,"y":-458},{"id":"Cm","lvl":"0.04","i":51,"x":-7600,"y":-875},{"id":"Cm","lvl":"0.04","i":52,"x":-7892,"y":-1167},{"id":"Cm","lvl":"0.04","i":53,"x":-8308,"y":-1292},{"id":"Cm","lvl":"0.04","i":54,"x":-8642,"y":-1167},{"id":"Cm","lvl":"0.04","i":55,"x":-8892,"y":-833},{"id":"Cm","lvl":"0.04","i":56,"x":-8933,"y":-333},{"id":"Cm","lvl":"0.04","i":57,"x":-8933,"y":500},{"id":"Cm","lvl":"0.04","i":58,"x":-9000,"y":833},
    {"id":"K","lvl":"0.04","i":0,"x":-167,"y":3833},{"id":"K","lvl":"0.04","i":1,"x":42,"y":3833},
    {"id":"Km","lvl":"0.04","i":0,"x":167,"y":-3833},{"id":"Km","lvl":"0.04","i":1,"x":-42,"y":-3833},
    {"id":"B","lvl":"0.02","i":0,"x":-208,"y":1438},{"id":"B","lvl":"0.02","i":1,"x":138,"y":1438},
    {"id":"Bm","lvl":"0.02","i":0,"x":208,"y":-1438},{"id":"Bm","lvl":"0.02","i":1,"x":-138,"y":-1438}
  ],
  "ellipse": [
    {"i":0,"x":4619,"y":-1066},{"i":1,"x":4641,"y":-248},{"i":2,"x":4349,"y":587},{"i":3,"x":3759,"y":1382},{"i":4,"x":2913,"y":2083},{"i":5,"x":1869,"y":2642},{"i":6,"x":697,"y":3021},{"i":7,"x":-521,"y":3194},{"i":8,"x":-1705,"y":3149},{"i":9,"x":-2773,"y":2890},{"i":10,"x":-3651,"y":2433},{"i":11,"x":-4281,"y":1812},{"i":12,"x":-4619,"y":1066},{"i":13,"x":-4641,"y":248},{"i":14,"x":-4349,"y":-587},{"i":15,"x":-3759,"y":-1382},{"i":16,"x":-2913,"y":-2083},{"i":17,"x":-1869,"y":-2642},{"i":18,"x":-697,"y":-3021},{"i":19,"x":521,"y":-3194},{"i":20,"x":1705,"y":-3149},{"i":21,"x":2773,"y":-2890},{"i":22,"x":3651,"y":-2433},{"i":23,"x":4281,"y":-1812}
  ],
  "segs": [
    {"k":"axis","x":-4619,"y":1066,"x2":4619,"y2":-1066},
    {"k":"axis","x":697,"y":3021,"x2":-697,"y2":-3021},
    {"k":"dir","x":0,"y":0,"x2":4580,"y2":0}
  ],
  "arc": [
    {"i":0,"x":420,"y":0},{"i":1,"x":364,"y":210},{"i":2,"x":210,"y":364},{"i":3,"x":0,"y":420},{"i":4,"x":-210,"y":364},{"i":5,"x":-364,"y":210},{"i":6,"x":-420,"y":0}
  ],
  "labels": [
    {"t":"0.04","g":"n","x":-4750,"y":3750},
    {"t":"0.02","g":"n","x":-3042,"y":2250},
    {"t":"0.03","g":"s","x":-1208,"y":2708},
    {"t":"0.04","g":"m","x":3083,"y":1333},
    {"t":"0.03","g":"v","x":-3000,"y":-333},
    {"t":"0.04","g":"m","x":-3083,"y":-1250},
    {"t":"0.02","g":"n","x":3125,"y":-2208},
    {"t":"0.03","g":"n","x":3792,"y":-2125},
    {"t":"0.04","g":"n","x":4667,"y":-3583}
  ],
  "notes": [
    {"t":"R","k":"R","x":-2013,"y":813},
    {"t":"r","k":"R","x":167,"y":1875},
    {"t":"θ","k":"t","x":-138,"y":750},
    {"t":"0","k":"z","x":971,"y":-613},
    {"t":"N","k":"N","x":8263,"y":7967}
  ],
  "arrow": [
    {"id":"s","i":0,"x":7875,"y":7654},{"id":"s","i":1,"x":7875,"y":8625},
    {"id":"h","i":0,"x":7708,"y":8375},{"id":"h","i":1,"x":7875,"y":8625},{"id":"h","i":2,"x":8042,"y":8375}
  ],
  "ticks": [{"x": 0, "y": 0}],
  "legend": [
    {"band":"a","lo":0,"hi":0.02},{"band":"b","lo":0.02,"hi":0.03},{"band":"c","lo":0.03,"hi":0.04},{"band":"d","lo":0.04,"hi":0.05}
  ]
},
"spacing": 4,
"hconcat": [
  {
    "width": 432,
    "height": 432,
    "view": {"fill": "#A077CF", "stroke": "#111", "strokeWidth": 1},
    "encoding": {
      "x": {"field": "x", "type": "quantitative", "scale": {"domain": [-9000, 9000], "nice": false, "zero": false}, "axis": null},
      "y": {"field": "y", "type": "quantitative", "scale": {"domain": [-9000, 9000], "nice": false, "zero": false}, "axis": null}
    },
    "layer": [
      {
        "data": {"name": "loops"},
        "mark": {"type": "line", "interpolate": "cardinal-closed"},
        "encoding": {
          "x": {"field": "x", "type": "quantitative", "scale": {"domain": [-9000, 9000], "nice": false, "zero": false},
                "axis": {"orient": "bottom", "values": [-8000,-6000,-4000,-2000,0,2000,4000,6000,8000], "labelExpr": "datum.value + ''", "labelPadding": 1, "title": "[m]", "titleX": 431, "titleY": 12, "titleAlign": "center", "titleBaseline": "middle", "titleAngle": 0, "titleFontSize": 9}},
          "y": {"field": "y", "type": "quantitative", "scale": {"domain": [-9000, 9000], "nice": false, "zero": false},
                "axis": {"orient": "left", "values": [-8000,-6000,-4000,-2000,0,2000,4000,6000,8000], "labelExpr": "datum.value + ''", "labelPadding": 2, "title": "[m]", "titleX": -13, "titleY": 7, "titleAlign": "center", "titleBaseline": "middle", "titleAngle": 0, "titleFontSize": 9}},
          "detail": {"field": "id"},
          "order": {"field": "i"},
          "color": {"field": "lvl", "type": "nominal", "scale": {"domain": ["0.02","0.03","0.04"], "range": ["#FFFF00","#111111","#111111"]}, "legend": null},
          "strokeWidth": {"field": "lvl", "type": "ordinal", "scale": {"domain": ["0.02","0.03","0.04"], "range": [2, 1, 1]}, "legend": null}
        }
      },
      {
        "data": {"name": "polys"},
        "mark": {"type": "line", "interpolate": "linear-closed"},
        "encoding": {
          "detail": {"field": "id"},
          "order": {"field": "i"},
          "color": {"field": "lvl", "type": "nominal", "legend": null},
          "strokeWidth": {"field": "lvl", "type": "ordinal", "legend": null}
        }
      },
      {
        "data": {"name": "paths"},
        "mark": {"type": "line", "interpolate": "cardinal"},
        "encoding": {
          "detail": {"field": "id"},
          "order": {"field": "i"},
          "color": {"field": "lvl", "type": "nominal", "legend": null},
          "strokeWidth": {"field": "lvl", "type": "ordinal", "legend": null}
        }
      },
      {
        "data": {"name": "ellipse"},
        "mark": {"type": "line", "interpolate": "cardinal-closed", "stroke": "#F0581E", "strokeWidth": 2},
        "encoding": {"order": {"field": "i"}}
      },
      {
        "data": {"name": "segs"},
        "transform": [{"filter": "datum.k == 'axis'"}],
        "mark": {"type": "rule", "stroke": "#F0581E", "strokeWidth": 2},
        "encoding": {"x2": {"field": "x2"}, "y2": {"field": "y2"}}
      },
      {
        "data": {"name": "segs"},
        "transform": [{"filter": "datum.k == 'dir'"}],
        "mark": {"type": "rule", "stroke": "#F4A084", "strokeWidth": 2},
        "encoding": {"x2": {"field": "x2"}, "y2": {"field": "y2"}}
      },
      {
        "data": {"name": "arc"},
        "mark": {"type": "line", "interpolate": "cardinal", "stroke": "#F4A084", "strokeWidth": 1.5},
        "encoding": {"order": {"field": "i"}}
      },
      {
        "data": {"name": "labels"},
        "transform": [{"filter": "datum.g == 'n'"}],
        "mark": {"type": "text", "angle": -63, "fontWeight": "bold", "fontSize": 11, "fill": "#A077CF", "stroke": "#A077CF", "strokeWidth": 4, "strokeJoin": "round"},
        "encoding": {"text": {"field": "t"}}
      },
      {
        "data": {"name": "labels"},
        "transform": [{"filter": "datum.g == 's'"}],
        "mark": {"type": "text", "angle": 15, "fontWeight": "bold", "fontSize": 11, "fill": "#A077CF", "stroke": "#A077CF", "strokeWidth": 4, "strokeJoin": "round"},
        "encoding": {"text": {"field": "t"}}
      },
      {
        "data": {"name": "labels"},
        "transform": [{"filter": "datum.g == 'm'"}],
        "mark": {"type": "text", "angle": 40, "fontWeight": "bold", "fontSize": 11, "fill": "#A077CF", "stroke": "#A077CF", "strokeWidth": 4, "strokeJoin": "round"},
        "encoding": {"text": {"field": "t"}}
      },
      {
        "data": {"name": "labels"},
        "transform": [{"filter": "datum.g == 'v'"}],
        "mark": {"type": "text", "angle": 72, "fontWeight": "bold", "fontSize": 11, "fill": "#A077CF", "stroke": "#A077CF", "strokeWidth": 4, "strokeJoin": "round"},
        "encoding": {"text": {"field": "t"}}
      },
      {
        "data": {"name": "labels"},
        "transform": [{"filter": "datum.g == 'n'"}],
        "mark": {"type": "text", "angle": -63, "fontWeight": "bold", "fontSize": 11, "color": "#000"},
        "encoding": {"text": {"field": "t"}}
      },
      {
        "data": {"name": "labels"},
        "transform": [{"filter": "datum.g == 's'"}],
        "mark": {"type": "text", "angle": 15, "fontWeight": "bold", "fontSize": 11, "color": "#000"},
        "encoding": {"text": {"field": "t"}}
      },
      {
        "data": {"name": "labels"},
        "transform": [{"filter": "datum.g == 'm'"}],
        "mark": {"type": "text", "angle": 40, "fontWeight": "bold", "fontSize": 11, "color": "#000"},
        "encoding": {"text": {"field": "t"}}
      },
      {
        "data": {"name": "labels"},
        "transform": [{"filter": "datum.g == 'v'"}],
        "mark": {"type": "text", "angle": 72, "fontWeight": "bold", "fontSize": 11, "color": "#000"},
        "encoding": {"text": {"field": "t"}}
      },
      {
        "data": {"name": "notes"},
        "transform": [{"filter": "datum.k == 'R'"}],
        "mark": {"type": "text", "fontSize": 14, "color": "#F0581E"},
        "encoding": {"text": {"field": "t"}}
      },
      {
        "data": {"name": "notes"},
        "transform": [{"filter": "datum.k == 't'"}],
        "mark": {"type": "text", "fontSize": 13, "color": "#F4A084"},
        "encoding": {"text": {"field": "t"}}
      },
      {
        "data": {"name": "notes"},
        "transform": [{"filter": "datum.k == 'z'"}],
        "mark": {"type": "text", "fontSize": 13, "color": "#D9A8E2"},
        "encoding": {"text": {"field": "t"}}
      },
      {
        "data": {"name": "notes"},
        "transform": [{"filter": "datum.k == 'N'"}],
        "mark": {"type": "text", "fontSize": 20, "color": "#000"},
        "encoding": {"text": {"field": "t"}}
      },
      {
        "data": {"name": "arrow"},
        "mark": {"type": "line", "stroke": "#000", "strokeWidth": 1.5},
        "encoding": {"detail": {"field": "id"}, "order": {"field": "i"}}
      },
      {
        "data": {"name": "ticks"},
        "mark": {"type": "point", "opacity": 0},
        "encoding": {
          "x": {"field": "x", "type": "quantitative", "scale": {"domain": [-9000, 9000], "nice": false, "zero": false}, "axis": {"orient": "top", "labels": false, "title": null, "values": [-8000,-6000,-4000,-2000,0,2000,4000,6000,8000]}},
          "y": {"field": "y", "type": "quantitative", "scale": {"domain": [-9000, 9000], "nice": false, "zero": false}, "axis": {"orient": "right", "labels": false, "title": null, "values": [-8000,-6000,-4000,-2000,0,2000,4000,6000,8000]}}
        }
      }
    ],
    "resolve": {"axis": {"x": "independent", "y": "independent"}}
  },
  {
    "width": 20,
    "height": 341,
    "view": {"stroke": null},
    "data": {"name": "legend"},
    "encoding": {
      "x": {"datum": 0, "type": "quantitative", "scale": {"domain": [0, 1], "nice": false, "zero": false}, "axis": null},
      "x2": {"datum": 1}
    },
    "layer": [
      {
        "mark": {"type": "rect", "stroke": "#222", "strokeWidth": 1},
        "encoding": {
          "y": {"field": "lo", "type": "quantitative",
                "scale": {"domain": [0, 0.02, 0.03, 0.04, 0.05], "range": [341, 278.3, 215.7, 152.3, 88.3], "nice": false, "zero": false},
                "axis": {"orient": "right", "values": [0, 0.02, 0.03, 0.04], "labelExpr": "datum.value == 0 ? '0' : format(datum.value, '.2f')", "title": null, "tickSize": 2, "labelPadding": 1}},
          "y2": {"field": "hi"},
          "fill": {"field": "band", "type": "nominal", "scale": {"domain": ["a","b","c","d"], "range": ["#9C6FCD","#A077CF","#A077CF","#A077CF"]}, "legend": null}
        }
      },
      {
        "mark": {"type": "rect", "opacity": 0},
        "encoding": {
          "y": {"field": "lo", "type": "quantitative",
                "axis": {"orient": "left", "labels": false, "ticks": false, "title": "Variogram", "titleY": 214.5, "titlePadding": 8, "titleFontSize": 12}},
          "y2": {"field": "hi"}
        }
      }
    ],
    "resolve": {"axis": {"y": "independent"}}
  }
]
}
